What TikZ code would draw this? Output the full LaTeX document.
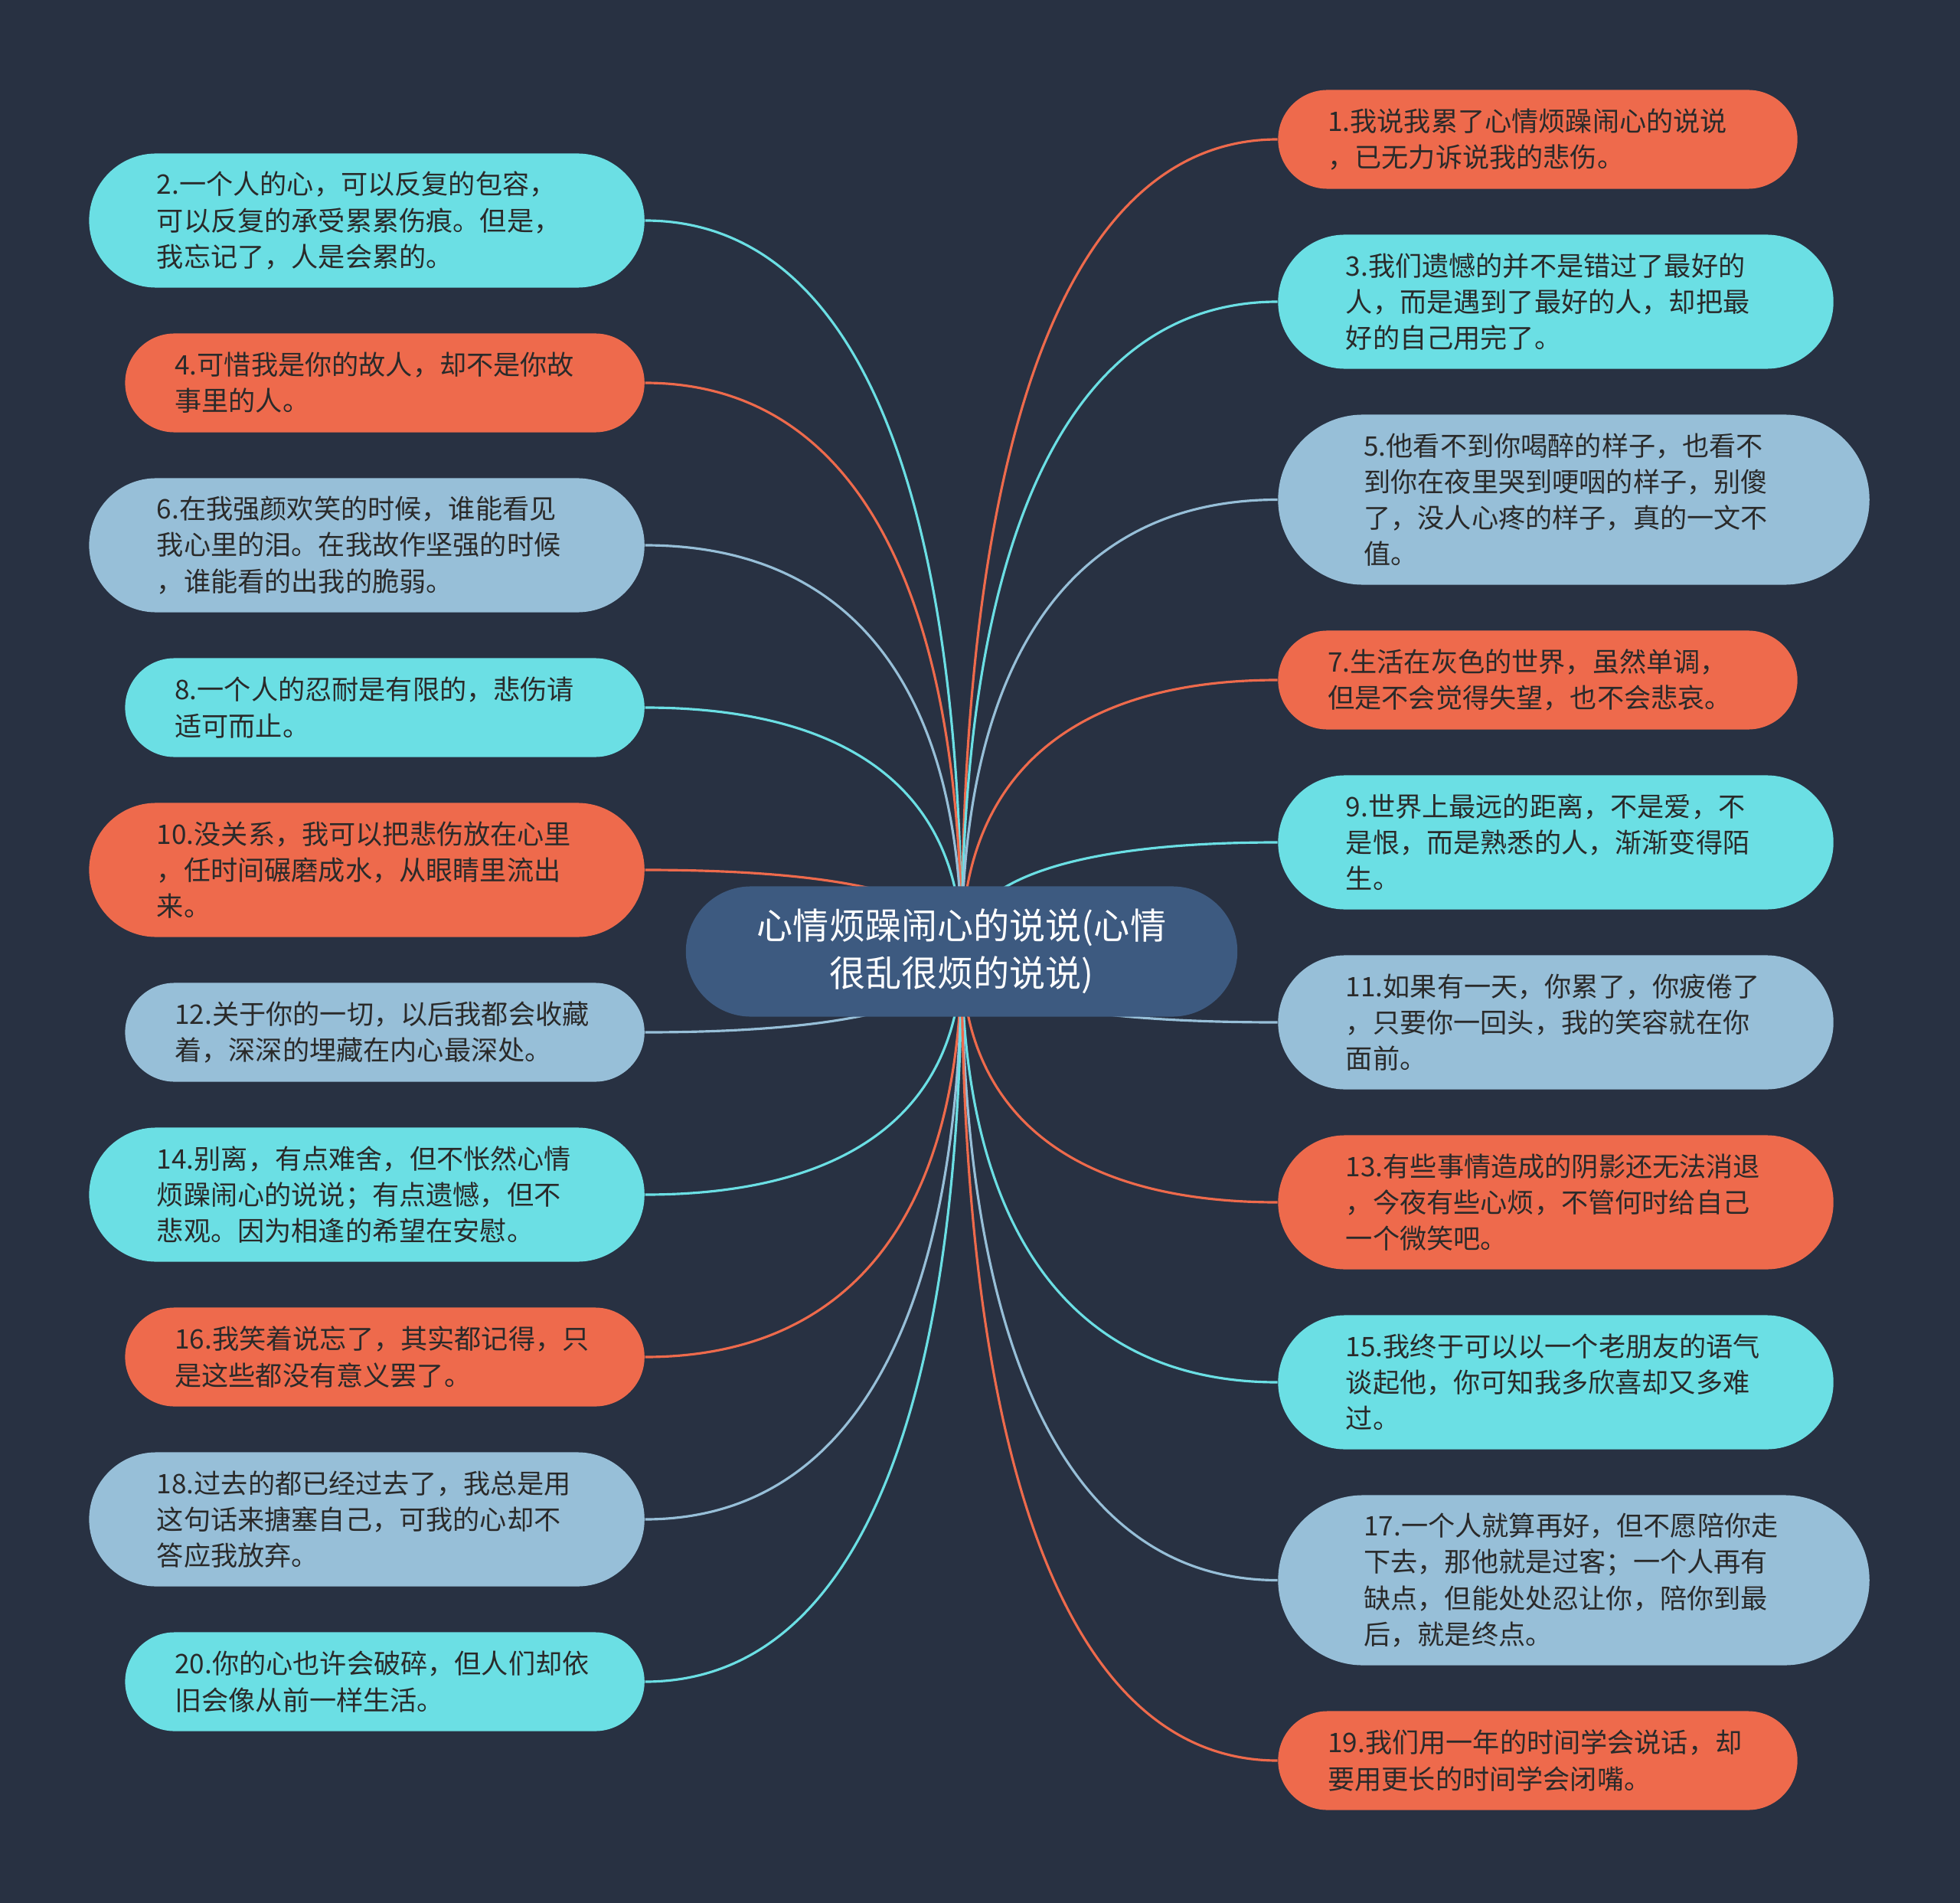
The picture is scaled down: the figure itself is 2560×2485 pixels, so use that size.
\documentclass[tikz,border=0pt]{standalone}
\usepackage{fontspec}
\setmainfont{Noto Sans CJK SC}
\usetikzlibrary{calc}
\definecolor{bgc}{HTML}{283142}
\definecolor{orangec}{HTML}{EE6A4C}
\definecolor{cyanc}{HTML}{6BDFE4}
\definecolor{bluec}{HTML}{97BFD8}
\definecolor{centerc}{HTML}{3D5A80}
\definecolor{textc}{HTML}{2A2A2A}
\pgfdeclarelayer{background}
\pgfsetlayers{background,main}
\newcommand{\leaffont}{\fontsize{10}{13.4}\selectfont}
\newcommand{\hubfont}{\fontsize{13.4}{17.6}\selectfont}
\newcommand{\linkto}[2]{\draw[link,#1] (c.center) .. controls ($(c.center)!0.65!(c.center|-#2)$) and ($(#2)!0.65!(c.center|-#2)$) .. (#2);}
\begin{document}
\begin{tikzpicture}[x=0.01cm,y=-0.01cm,
 leaf/.style={rectangle, inner ysep=0pt, align=left, text width=5.48cm, font=\leaffont, text=textc},
 twol/.style={leaf, minimum height=1.29cm, rounded corners=0.645cm, inner xsep=0.65cm},
 threel/.style={leaf, minimum height=1.75cm, rounded corners=0.875cm, inner xsep=0.885cm},
 fourl/.style={leaf, minimum height=2.22cm, rounded corners=1.11cm, inner xsep=1.12cm},
 ob/.style={fill=orangec},
 cb/.style={fill=cyanc},
 bb/.style={fill=bluec},
 lft/.style={anchor=east},
 rgt/.style={anchor=west},
 link/.style={line width=0.9pt},
 hub/.style={rectangle, fill=centerc, text=white, font=\hubfont, align=center, minimum width=7.2cm, minimum height=1.7cm, rounded corners=0.85cm, inner sep=0pt},
]
\useasboundingbox (0,0) rectangle (2560,2485);
\begin{pgfonlayer}{background}
\fill[bgc] (0,0) rectangle (2560,2485);
\end{pgfonlayer}

\node[hub] (c) at (1256,1242.5) {心情烦躁闹心的说说(心情\\很乱很烦的说说)};

% left column
\node[threel,cb,lft] (n2) at (842.5,288) {2.一个人的心，可以反复的包容，\\可以反复的承受累累伤痕。但是，\\我忘记了，人是会累的。};
\node[twol,ob,lft] (n4) at (842.5,500) {4.可惜我是你的故人，却不是你故\\事里的人。};
\node[threel,bb,lft] (n6) at (842.5,712) {6.在我强颜欢笑的时候，谁能看见\\我心里的泪。在我故作坚强的时候\\，谁能看的出我的脆弱。};
\node[twol,cb,lft] (n8) at (842.5,924) {8.一个人的忍耐是有限的，悲伤请\\适可而止。};
\node[threel,ob,lft] (n10) at (842.5,1136) {10.没关系，我可以把悲伤放在心里\\，任时间碾磨成水，从眼睛里流出\\来。};
\node[twol,bb,lft] (n12) at (842.5,1348) {12.关于你的一切，以后我都会收藏\\着，深深的埋藏在内心最深处。};
\node[threel,cb,lft] (n14) at (842.5,1560) {14.别离，有点难舍，但不怅然心情\\烦躁闹心的说说；有点遗憾，但不\\悲观。因为相逢的希望在安慰。};
\node[twol,ob,lft] (n16) at (842.5,1772) {16.我笑着说忘了，其实都记得，只\\是这些都没有意义罢了。};
\node[threel,bb,lft] (n18) at (842.5,1984) {18.过去的都已经过去了，我总是用\\这句话来搪塞自己，可我的心却不\\答应我放弃。};
\node[twol,cb,lft] (n20) at (842.5,2196) {20.你的心也许会破碎，但人们却依\\旧会像从前一样生活。};

% right column
\node[twol,ob,rgt] (n1) at (1668.6,182) {1.我说我累了心情烦躁闹心的说说\\，已无力诉说我的悲伤。};
\node[threel,cb,rgt] (n3) at (1668.6,394) {3.我们遗憾的并不是错过了最好的\\人，而是遇到了最好的人，却把最\\好的自己用完了。};
\node[fourl,bb,rgt] (n5) at (1668.6,652.5) {5.他看不到你喝醉的样子，也看不\\到你在夜里哭到哽咽的样子，别傻\\了，没人心疼的样子，真的一文不\\值。};
\node[twol,ob,rgt] (n7) at (1668.6,888) {7.生活在灰色的世界，虽然单调，\\但是不会觉得失望，也不会悲哀。};
\node[threel,cb,rgt] (n9) at (1668.6,1100) {9.世界上最远的距离，不是爱，不\\是恨，而是熟悉的人，渐渐变得陌\\生。};
\node[threel,bb,rgt] (n11) at (1668.6,1335) {11.如果有一天，你累了，你疲倦了\\，只要你一回头，我的笑容就在你\\面前。};
\node[threel,ob,rgt] (n13) at (1668.6,1570) {13.有些事情造成的阴影还无法消退\\，今夜有些心烦，不管何时给自己\\一个微笑吧。};
\node[threel,cb,rgt] (n15) at (1668.6,1805) {15.我终于可以以一个老朋友的语气\\谈起他，你可知我多欣喜却又多难\\过。};
\node[fourl,bb,rgt] (n17) at (1668.6,2063.5) {17.一个人就算再好，但不愿陪你走\\下去，那他就是过客；一个人再有\\缺点，但能处处忍让你，陪你到最\\后，就是终点。};
\node[twol,ob,rgt] (n19) at (1668.6,2299) {19.我们用一年的时间学会说话，却\\要用更长的时间学会闭嘴。};

\begin{pgfonlayer}{background}
\linkto{cyanc}{n2.east}
\linkto{orangec}{n4.east}
\linkto{bluec}{n6.east}
\linkto{cyanc}{n8.east}
\linkto{orangec}{n10.east}
\linkto{bluec}{n12.east}
\linkto{cyanc}{n14.east}
\linkto{orangec}{n16.east}
\linkto{bluec}{n18.east}
\linkto{cyanc}{n20.east}
\linkto{orangec}{n1.west}
\linkto{cyanc}{n3.west}
\linkto{bluec}{n5.west}
\linkto{orangec}{n7.west}
\linkto{cyanc}{n9.west}
\linkto{bluec}{n11.west}
\linkto{orangec}{n13.west}
\linkto{cyanc}{n15.west}
\linkto{bluec}{n17.west}
\linkto{orangec}{n19.west}
\end{pgfonlayer}
\end{tikzpicture}
\end{document}
